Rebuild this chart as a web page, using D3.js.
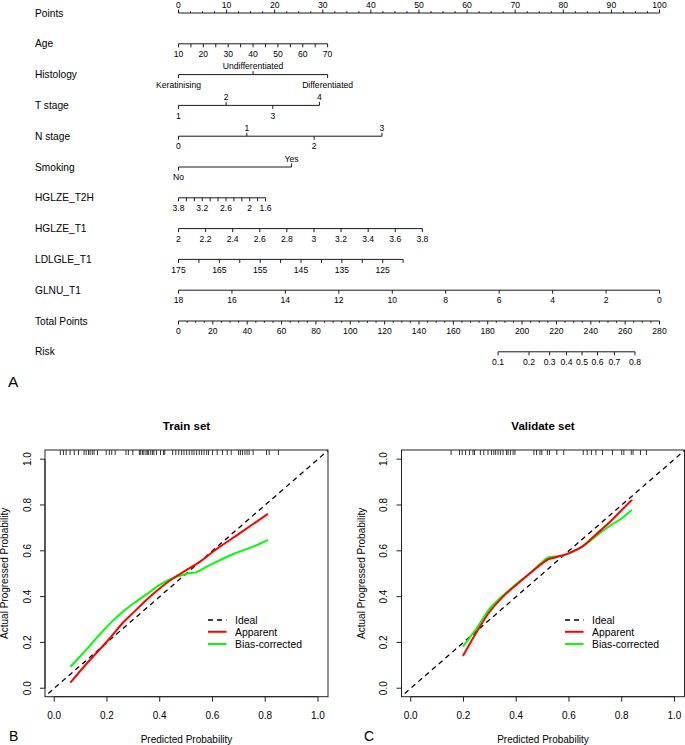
<!DOCTYPE html>
<html><head><meta charset="utf-8">
<script src="https://cdn.jsdelivr.net/npm/d3@7"></script>
<style>
body{margin:0;background:#fff}
svg{display:block}
text{font-family:"Liberation Sans",Arial,Helvetica,sans-serif;fill:#000}
</style>
</head><body>
<svg id="c" width="685" height="745"></svg>
<script>
// ---------------- DATA ----------------
const rowNames = ["Points","Age","Histology","T stage","N stage","Smoking","HGLZE_T2H","HGLZE_T1","LDLGLE_T1","GLNU_T1","Total Points","Risk"];

const pointsDomain = [0, 100];
const pointsLabels = [0,10,20,30,40,50,60,70,80,90,100];

const ageTicks = [10,15,20,25,30,35,40,45,50,55,60,65,70];
const ageLabels = [10,20,30,40,50,60,70];
const ageRange = [10, 70];
const agePoints = [0, 31];

const histLevels = ["Keratinising","Undifferentiated","Differentiated"];
const histPoints = [0, 15.5, 31];

const tLevels = ["1","2","3","4"];
const tPoints = [0, 9.9, 19.6, 29.3];

const nLevels = ["0","1","2","3"];
const nPoints = [0, 14.2, 28.2, 42.3];

const smokeLevels = ["No","Yes"];
const smokePoints = [0, 23.5];

const t2hTicks = [3.8,3.6,3.4,3.2,3.0,2.8,2.6,2.4,2.2,2.0,1.8,1.6];
const t2hLabels = [3.8,3.2,2.6,2.0,1.6];
const t2hRange = [3.8, 1.6];
const t2hPoints = [0, 18.1];

const t1Ticks = [2,2.2,2.4,2.6,2.8,3,3.2,3.4,3.6,3.8];
const t1Labels = [2,2.2,2.4,2.6,2.8,3,3.2,3.4,3.6,3.8];
const t1Range = [2, 3.8];
const t1Points = [0, 50.7];

const ldTicks = [175,170,165,160,155,150,145,140,135,130,125,120];
const ldLabels = [175,165,155,145,135,125];
const ldRange = [175, 120];
const ldPoints = [0, 46.7];

const glnuTicks = [18,16,14,12,10,8,6,4,2,0];
const glnuLabels = [18,16,14,12,10,8,6,4,2,0];
const glnuRange = [18, 0];
const glnuPoints = [0, 100];

const totalDomain = [0, 280];
const totalLabels = [0,20,40,60,80,100,120,140,160,180,200,220,240,260,280];

const riskTicks = [0.1,0.2,0.3,0.4,0.5,0.6,0.7,0.8];
const riskMidTotal = 234.9;   // total points where risk = 0.5
const riskSlope = 0.04495;    // logit per total point

// calibration curves
const trainApparent = [[0.061,0.024],[0.124,0.109],[0.2,0.204],[0.262,0.288],[0.3,0.33],[0.35,0.386],[0.404,0.44],[0.451,0.48],[0.502,0.517],[0.553,0.553],[0.603,0.597],[0.704,0.677],[0.81,0.761]];
const trainBias = [[0.061,0.094],[0.111,0.155],[0.161,0.22],[0.212,0.283],[0.262,0.336],[0.3,0.37],[0.35,0.41],[0.401,0.452],[0.451,0.481],[0.502,0.5],[0.54,0.507],[0.565,0.522],[0.603,0.545],[0.679,0.586],[0.754,0.618],[0.81,0.648]];
const trainRug = [0.023,0.035,0.045,0.06,0.076,0.092,0.113,0.121,0.13,0.136,0.144,0.151,0.164,0.197,0.209,0.218,0.231,0.272,0.281,0.298,0.323,0.328,0.335,0.34,0.348,0.353,0.358,0.366,0.373,0.378,0.388,0.403,0.414,0.419,0.449,0.461,0.472,0.483,0.492,0.502,0.512,0.522,0.53,0.54,0.55,0.559,0.568,0.578,0.585,0.6,0.618,0.638,0.656,0.671,0.699,0.706,0.714,0.723,0.731,0.739,0.754,0.805,0.815,0.85];

const validApparent = [[0.198,0.141],[0.25,0.245],[0.3,0.335],[0.35,0.4],[0.4,0.451],[0.45,0.5],[0.5,0.546],[0.52,0.562],[0.55,0.572],[0.6,0.59],[0.65,0.618],[0.7,0.669],[0.75,0.72],[0.8,0.778],[0.838,0.822]];
const validBias = [[0.198,0.182],[0.25,0.262],[0.3,0.348],[0.35,0.405],[0.38,0.435],[0.4,0.455],[0.45,0.5],[0.5,0.553],[0.52,0.57],[0.58,0.58],[0.65,0.618],[0.7,0.662],[0.75,0.705],[0.8,0.742],[0.838,0.778]];
const validRug = [0.153,0.185,0.195,0.208,0.223,0.236,0.242,0.264,0.277,0.293,0.306,0.315,0.322,0.331,0.34,0.35,0.363,0.369,0.378,0.388,0.395,0.467,0.477,0.49,0.497,0.518,0.526,0.554,0.58,0.654,0.669,0.685,0.702,0.727,0.765,0.8,0.808,0.836,0.843,0.871,0.894];

const calTicks = [0,0.2,0.4,0.6,0.8,1.0];
const legendItems = ["Ideal","Apparent","Bias-corrected"];

// ---------------- NOMOGRAM ----------------
const svg = d3.select("#c");
const nomo = svg.append("g");
const ptsX = d3.scaleLinear().domain(pointsDomain).range([178.5, 659.5]);
const rowY = i => 13 + i * 30.8;
const LINE = "#1a1a1a";
const labFS = 8.6;

rowNames.forEach((n, i) => {
  nomo.append("text").attr("x", 35).attr("y", rowY(i) + 3.6)
    .attr("font-size", 10.2).text(n);
});

function baseLine(y, x1, x2) {
  nomo.append("line").attr("x1", x1).attr("x2", x2).attr("y1", y).attr("y2", y)
    .attr("stroke", LINE).attr("stroke-width", 1);
}
function tick(x, y, dir, len) {
  nomo.append("line").attr("x1", x).attr("x2", x).attr("y1", y).attr("y2", y + dir * len)
    .attr("stroke", LINE).attr("stroke-width", 1);
}
function tlabel(x, y, dir, txt) {
  nomo.append("text").attr("x", x).attr("y", dir > 0 ? y + 13.2 : y - 5.3)
    .attr("text-anchor", "middle").attr("font-size", labFS).text(txt);
}
function contRow(i, scale, ticks, labels, dir, minorLen) {
  const y = rowY(i);
  const xs = ticks.map(scale);
  baseLine(y, d3.min(xs), d3.max(xs));
  ticks.forEach(t => tick(scale(t), y, dir, labels.includes(t) ? 3.5 : minorLen));
  labels.forEach(l => tlabel(scale(l), y, dir, String(l)));
}
function catRow(i, levels, pts) {
  const y = rowY(i);
  const xs = pts.map(p => ptsX(p));
  baseLine(y, d3.min(xs), d3.max(xs));
  levels.forEach((lv, k) => {
    const dir = k % 2 === 0 ? 1 : -1;
    tick(xs[k], y, dir, 3.5);
    tlabel(xs[k], y, dir, lv);
  });
}
const varScale = (range, pts) => d3.scaleLinear().domain(range).range(pts.map(p => ptsX(p)));

contRow(0, ptsX, d3.range(0, 100.01, 2.5), pointsLabels, -1, 1.8);
contRow(1, varScale(ageRange, agePoints), ageTicks, ageLabels, 1, 3.5);
catRow(2, histLevels, histPoints);
catRow(3, tLevels, tPoints);
catRow(4, nLevels, nPoints);
catRow(5, smokeLevels, smokePoints);
contRow(6, varScale(t2hRange, t2hPoints), t2hTicks, t2hLabels, 1, 3.5);
contRow(7, varScale(t1Range, t1Points), t1Ticks, t1Labels, 1, 3.5);
contRow(8, varScale(ldRange, ldPoints), ldTicks, ldLabels, 1, 3.5);
contRow(9, varScale(glnuRange, glnuPoints), glnuTicks, glnuLabels, 1, 3.5);
const totX = d3.scaleLinear().domain(totalDomain).range([178.5, 659.5]);
contRow(10, totX, d3.range(0, 280.01, 5), totalLabels, 1, 1.8);
const logit = p => Math.log(p / (1 - p));
const riskX = p => totX(riskMidTotal + logit(p) / riskSlope);
contRow(11, riskX, riskTicks, riskTicks, 1, 3.5);

svg.append("text").attr("x", 8).attr("y", 387).attr("font-size", 15.5).text("A");

// ---------------- CALIBRATION PANELS ----------------
function calPanel(opt) {
  const g = svg.append("g");
  const x = d3.scaleLinear().domain([-0.035, 1.038]).range([opt.left, opt.left + 283]);
  const y = d3.scaleLinear().domain([-0.037, 1.04]).range([696.7, 450]);
  const [bx0, bx1] = x.range(), [by1, by0] = y.range();
  const cid = "clip" + opt.id;
  g.append("clipPath").attr("id", cid).append("rect")
    .attr("x", bx0).attr("y", by0).attr("width", bx1 - bx0).attr("height", by1 - by0);

  g.append("line").attr("clip-path", `url(#${cid})`)
    .attr("x1", x(-0.1)).attr("y1", y(-0.1)).attr("x2", x(1.1)).attr("y2", y(1.1))
    .attr("stroke", "#000").attr("stroke-width", 1.3).attr("stroke-dasharray", "5,4");

  const line = d3.line().x(d => x(d[0])).y(d => y(d[1])).curve(d3.curveCatmullRom.alpha(0.5));
  g.append("path").datum(opt.bias).attr("d", line).attr("fill", "none")
    .attr("stroke", "#00ff00").attr("stroke-width", 2);
  g.append("path").datum(opt.apparent).attr("d", line).attr("fill", "none")
    .attr("stroke", "#ff0000").attr("stroke-width", 2);

  opt.rug.forEach(r => g.append("line").attr("x1", x(r)).attr("x2", x(r))
    .attr("y1", by0).attr("y2", by0 + 5).attr("stroke", "#000").attr("stroke-width", 0.8));

  g.append("rect").attr("x", bx0).attr("y", by0).attr("width", bx1 - bx0).attr("height", by1 - by0)
    .attr("fill", "none").attr("stroke", "#222").attr("stroke-width", 1);

  g.append("line").attr("x1", x(0)).attr("x2", x(1)).attr("y1", by1).attr("y2", by1).attr("stroke", "#222");
  calTicks.forEach(t => {
    g.append("line").attr("x1", x(t)).attr("x2", x(t)).attr("y1", by1).attr("y2", by1 + 5).attr("stroke", "#222");
    g.append("text").attr("x", x(t)).attr("y", 718.5).attr("text-anchor", "middle")
      .attr("font-size", 10).text(t.toFixed(1));
  });
  g.append("line").attr("x1", bx0).attr("x2", bx0).attr("y1", y(0)).attr("y2", y(1)).attr("stroke", "#222");
  calTicks.forEach(t => {
    g.append("line").attr("x1", bx0).attr("x2", bx0 - 5).attr("y1", y(t)).attr("y2", y(t)).attr("stroke", "#222");
    g.append("text").attr("transform", `translate(${bx0 - 14.5},${y(t)}) rotate(-90)`)
      .attr("text-anchor", "middle").attr("font-size", 10).text(t.toFixed(1));
  });

  const cx = (bx0 + bx1) / 2;
  g.append("text").attr("x", cx).attr("y", 430).attr("text-anchor", "middle")
    .attr("font-size", 11.5).attr("font-weight", "bold").text(opt.title);
  g.append("text").attr("x", cx).attr("y", 742.5).attr("text-anchor", "middle")
    .attr("font-size", 10).text("Predicted Probability");
  g.append("text").attr("transform", `translate(${bx0 - 37},${(by0 + by1) / 2}) rotate(-90)`)
    .attr("text-anchor", "middle").attr("font-size", 10).text("Actual Progressed Probability");

  const lx = opt.legendX, ly = [620, 631.8, 644];
  const styles = [{c: "#000", d: "5,4", w: 1.5}, {c: "#ff0000", d: null, w: 2}, {c: "#00ff00", d: null, w: 2}];
  legendItems.forEach((t, k) => {
    g.append("line").attr("x1", lx).attr("x2", lx + 18.5).attr("y1", ly[k]).attr("y2", ly[k])
      .attr("stroke", styles[k].c).attr("stroke-width", styles[k].w)
      .attr("stroke-dasharray", styles[k].d);
    g.append("text").attr("x", lx + 27).attr("y", ly[k] + 3.8).attr("font-size", 10.4).text(t);
  });

  svg.append("text").attr("x", opt.letterX).attr("y", 741).attr("font-size", 14).text(opt.letter);
}

calPanel({id: "tr", left: 45, title: "Train set", apparent: trainApparent, bias: trainBias,
  rug: trainRug, legendX: 208, letter: "B", letterX: 9});
calPanel({id: "va", left: 401.5, title: "Validate set", apparent: validApparent, bias: validBias,
  rug: validRug, legendX: 565, letter: "C", letterX: 364});
</script>
</body></html>
